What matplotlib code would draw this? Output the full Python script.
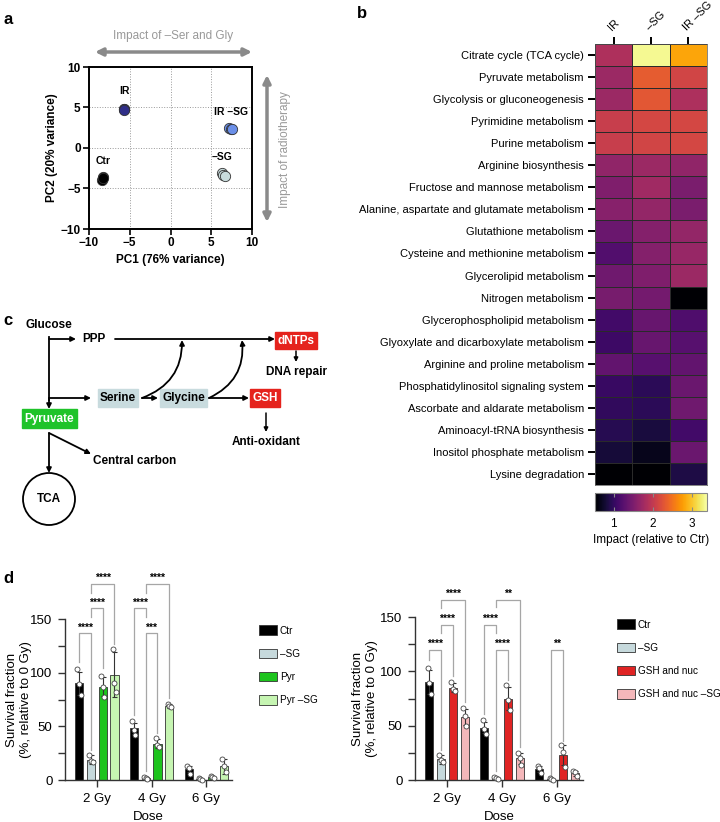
import numpy as np
import matplotlib.pyplot as plt
from matplotlib.patches import Patch, Rectangle, Circle

plt.rcParams['font.family'] = ['Liberation Sans', 'DejaVu Sans']

W, H = 720, 822

# a: PCA of metabolite profiles
pca_groups = ['Ctr', 'IR', 'IR –SG', '–SG']
pca_pc1 = [[-8.30, -8.36, -8.27], [-5.72, -5.68, -5.70], [7.12, 7.38, 7.58], [6.28, 6.46, 6.64]]
pca_pc2 = [[-3.52, -3.92, -3.72], [4.78, 4.84, 4.74], [2.52, 2.40, 2.30], [-3.10, -3.30, -3.48]]
pca_colors = ['#000000', '#2f2e88', '#6b8fe8', '#c8dbdc']

# b: pathway impact heatmap
conditions = ['IR', '–SG', 'IR –SG']
pathways = ['Citrate cycle (TCA cycle)', 'Pyruvate metabolism', 'Glycolysis or gluconeogenesis',
            'Pyrimidine metabolism', 'Purine metabolism', 'Arginine biosynthesis',
            'Fructose and mannose metabolism', 'Alanine, aspartate and glutamate metabolism',
            'Glutathione metabolism', 'Cysteine and methionine metabolism',
            'Glycerolipid metabolism', 'Nitrogen metabolism', 'Glycerophospholipid metabolism',
            'Glyoxylate and dicarboxylate metabolism', 'Arginine and proline metabolism',
            'Phosphatidylinositol signaling system', 'Ascorbate and aldarate metabolism',
            'Aminoacyl-tRNA biosynthesis', 'Inositol phosphate metabolism', 'Lysine degradation']
impact_ir = [1.86, 1.72, 1.72, 2.04, 2.04, 1.64, 1.52, 1.58, 1.38, 1.21,
             1.41, 1.46, 1.09, 1.06, 1.32, 1.03, 0.98, 0.92, 0.81, 0.52]
impact_sg = [3.32, 2.32, 2.29, 2.15, 2.12, 1.72, 1.75, 1.66, 1.55, 1.55,
             1.52, 1.44, 1.35, 1.35, 1.24, 0.95, 0.95, 0.83, 0.66, 0.52]
impact_irsg = [2.81, 2.12, 1.84, 2.15, 2.15, 1.64, 1.49, 1.49, 1.66, 1.69,
               1.72, 0.52, 1.18, 1.24, 1.32, 1.38, 1.41, 1.09, 1.38, 0.86]

# d: survival fractions
doses = ['2 Gy', '4 Gy', '6 Gy']
ctr_mean, ctr_sd = [90, 48, 10], [11, 5, 3]
ctr_pts = [[103, 89, 79], [55, 47, 42], [13, 11, 6]]
sg_mean, sg_sd = [19, 2, 1], [4, 1, 1]
sg_pts = [[23, 18, 17], [3, 2, 1], [2, 1, 0]]
pyr_mean, pyr_sd = [87, 34, 3], [9, 4, 1]
pyr_pts = [[97, 87, 77], [39, 33, 31], [4, 3, 2]]
pyrsg_mean, pyrsg_sd = [98, 69, 13], [21, 2, 7]
pyrsg_pts = [[122, 90, 82], [71, 69, 68], [20, 13, 7]]
gsh_mean, gsh_sd = [85, 75, 23], [4, 11, 9]
gsh_pts = [[90, 84, 82], [87, 74, 64], [32, 26, 12]]
gshsg_mean, gshsg_sd = [58, 20, 6], [7, 5, 2]
gshsg_pts = [[66, 59, 50], [25, 20, 14], [8, 7, 4]]

# (dose index, bar i, bar j, height, leg bottom i, leg bottom j, label)
left_sig = [(0, 0, 1, 137, 110, 28, '****'), (0, 1, 2, 160, 152, 104, '****'),
            (0, 1, 3, 183, 174, 127, '****'), (1, 0, 1, 160, 61, 152, '****'),
            (1, 1, 2, 137, 8, 44, '***'), (1, 1, 3, 183, 174, 76, '****')]
right_sig = [(0, 0, 1, 120, 110, 28, '****'), (0, 1, 2, 143, 135, 96, '****'),
             (0, 1, 3, 166, 158, 72, '****'), (1, 0, 1, 143, 61, 135, '****'),
             (1, 1, 2, 120, 8, 92, '****'), (1, 1, 3, 166, 159, 30, '**'),
             (2, 1, 2, 120, 5, 36, '**')]

fig = plt.figure(figsize=(W / 100, H / 100), dpi=100)


def px_ax(x0, y0, x1, y1):
    return fig.add_axes([x0 / W, 1 - y1 / H, (x1 - x0) / W, (y1 - y0) / H])


ov = fig.add_axes([0, 0, 1, 1])
ov.set_xlim(0, W)
ov.set_ylim(H, 0)
ov.axis('off')


def arrow(x0, y0, x1, y1, color='k', lw=1.3, ms=7, style='-|>', rad=None):
    props = dict(arrowstyle=style, color=color, lw=lw, mutation_scale=ms, shrinkA=0, shrinkB=0)
    if rad is not None:
        props['connectionstyle'] = 'arc3,rad=%s' % rad
    ov.annotate('', xy=(x1, y1), xytext=(x0, y0), arrowprops=props)


for lab, x, y in [('a', 3, 20), ('b', 357, 14), ('c', 3, 320), ('d', 3, 578)]:
    ov.text(x, y, lab, fontsize=12, fontweight='bold', va='center')

# ---------------- a
ax = px_ax(89, 67, 252, 229)
offs = [(0, 1.5), (0, 1.6), (0.1, 1.45), (-0.2, 1.55)]
for g, xs, ys, c, o in zip(pca_groups, pca_pc1, pca_pc2, pca_colors, offs):
    ax.scatter(xs, ys, s=55, color=c, edgecolor='#333333', linewidth=0.6, zorder=3)
    ax.text(np.mean(xs) + o[0], np.mean(ys) + o[1], g, ha='center', va='bottom',
            fontsize=7.5, fontweight='bold')
ax.set_xlim(-10, 10)
ax.set_ylim(-10, 10)
ax.set_xticks([-10, -5, 0, 5, 10])
ax.set_yticks([-10, -5, 0, 5, 10])
ax.grid(True, color='#999999', ls=':', lw=0.7)
for s in ax.spines.values():
    s.set_linewidth(1.4)
ax.tick_params(width=1.2, length=4, labelsize=8.5, pad=2)
for t in ax.get_xticklabels() + ax.get_yticklabels():
    t.set_fontweight('bold')
ax.set_xlabel('PC1 (76% variance)', fontsize=8.5, fontweight='bold', labelpad=3)
ax.set_ylabel('PC2 (20% variance)', fontsize=8.5, fontweight='bold', labelpad=2)

arrow(95, 52, 252, 52, color='#8a8a8a', lw=2.5, ms=11, style='<|-|>')
ov.text(173, 36, 'Impact of –Ser and Gly', color='#999999', fontsize=8.5, ha='center', va='center')
arrow(267, 75, 267, 222, color='#8a8a8a', lw=2.5, ms=11, style='<|-|>')
ov.text(285, 150, 'Impact of radiotherapy', color='#999999', fontsize=8.5, ha='center',
        va='center', rotation=90)

# ---------------- b
axb = px_ax(595, 44, 707, 485)
vals = np.array([impact_ir, impact_sg, impact_irsg]).T
mesh = axb.pcolormesh(vals, cmap='inferno', vmin=0.52, vmax=3.38,
                      edgecolors='#2a2a2a', linewidth=0.5)
axb.set_xlim(0, 3)
axb.set_ylim(len(pathways), 0)
axb.set_yticks(np.arange(len(pathways)) + 0.5)
axb.set_yticklabels(pathways)
axb.set_xticks(np.arange(3) + 0.5)
axb.xaxis.tick_top()
axb.set_xticklabels(conditions, rotation=45, ha='left', va='bottom', rotation_mode='anchor')
axb.tick_params(axis='both', length=5, width=1.4, labelsize=8, pad=3)
for s in axb.spines.values():
    s.set_linewidth(0.5)
    s.set_color('#555555')

cax = px_ax(595, 493, 707, 511)
cb = fig.colorbar(mesh, cax=cax, orientation='horizontal', ticks=[1, 2, 3])
cb.outline.set_edgecolor('#888888')
cb.outline.set_linewidth(0.8)
cax.tick_params(axis='x', direction='in', top=True, bottom=True, length=3, width=0.8,
                color='#888888', labelsize=8.5, pad=5)
cax.set_xlabel('Impact (relative to Ctr)', fontsize=8.5, labelpad=3)

# ---------------- c
bold = dict(fontsize=8.5, fontweight='bold', ha='center', va='center')
ov.text(49, 325, 'Glucose', **bold)
ov.plot([49, 49], [337, 400], color='k', lw=1.3)
arrow(49, 398, 49, 409)
arrow(49, 339, 76, 339)
ov.text(94, 339, 'PPP', **bold)
arrow(115, 339, 275, 339)
ov.add_patch(Rectangle((275, 332), 42, 17, color='#e5231d'))
ov.text(296, 340.5, 'dNTPs', color='white', **bold)
arrow(296, 351, 296, 362, ms=6, lw=1.1)
ov.text(297, 372, 'DNA repair', **bold)
arrow(49, 398, 91, 398)
ov.add_patch(Rectangle((98, 389), 40, 18, color='#c8dbde'))
ov.text(118, 398, 'Serine', **bold)
arrow(142, 398, 158, 398)
ov.add_patch(Rectangle((160, 389), 47, 18, color='#c8dbde'))
ov.text(183.5, 398, 'Glycine', **bold)
arrow(209, 398, 249, 398)
ov.add_patch(Rectangle((250, 389), 30, 18, color='#e5231d'))
ov.text(265, 398, 'GSH', color='white', **bold)
arrow(266, 413, 266, 432, ms=6, lw=1.1)
ov.text(266, 442, 'Anti-oxidant', **bold)
arrow(142, 398, 182, 340, rad=0.35)
arrow(209, 398, 242, 340, rad=0.35)
ov.add_patch(Rectangle((22, 409), 55, 19, color='#1fc32a'))
ov.text(49.5, 418.5, 'Pyruvate', color='white', **bold)
arrow(49, 433, 49, 473)
arrow(49, 433, 91, 454)
ov.text(93, 461, 'Central carbon', fontsize=8.5, fontweight='bold', ha='left', va='center')
ov.add_patch(Circle((49, 499), 26, fill=False, lw=1.3, color='k'))
ov.text(49, 499, 'TCA', **bold)


# ---------------- d
def survival(ax, series, sig, label_x, leg_anchor):
    x = np.arange(len(doses))
    off = [-1.5, -0.5, 0.5, 1.5]
    step, bw = 0.215, 0.15
    for k, (name, mean, sd, pts, col) in enumerate(series):
        xs = x + off[k] * step
        ax.bar(xs, mean, width=bw, color=col, edgecolor='#333333', linewidth=0.6,
               label=name, zorder=2)
        ax.errorbar(xs, mean, yerr=sd, fmt='none', ecolor='#333333', elinewidth=0.8,
                    capsize=1.8, capthick=0.8, zorder=3)
        for xi, p in zip(xs, pts):
            jit = np.array([-0.03, 0.0, 0.03])
            ax.plot(xi + jit, p, 'o', ms=3.6, mfc='white', mec='#444444', mew=0.6,
                    zorder=4, clip_on=False)
    for d, i, j, h, bi, bj, lab in sig:
        x1 = x[d] + off[i] * step
        x2 = x[d] + off[j] * step
        ax.plot([x1, x1, x2, x2], [bi, h, h, bj], color='#a6a6a6', lw=0.9, clip_on=False)
        ax.text((x1 + x2) / 2, h + 5, lab, ha='center', va='center', fontsize=7.5,
                fontweight='bold', clip_on=False)
    ax.set_ylim(0, 150)
    ax.set_xlim(-0.58, 2.47)
    ax.set_yticks([0, 50, 100, 150])
    ax.set_yticks([25, 75, 125], minor=True)
    ax.set_xticks(x)
    ax.set_xticklabels(doses)
    for s in ['top', 'right']:
        ax.spines[s].set_visible(False)
    for s in ['left', 'bottom']:
        ax.spines[s].set_linewidth(1.0)
        ax.spines[s].set_color('#333333')
    ax.tick_params(which='both', width=1.0, color='#333333', labelsize=9.5, pad=4)
    ax.tick_params(which='major', length=5)
    ax.tick_params(which='minor', length=5)
    ax.set_xlabel('Dose', fontsize=9.5, labelpad=5)
    ax.set_ylabel('Survival fraction\n(%, relative to 0 Gy)', fontsize=9.5)
    ax.yaxis.set_label_coords(label_x, 0.5)
    handles = [Patch(facecolor=s[4], edgecolor='#333333', linewidth=0.6, label=s[0])
               for s in series]
    ax.legend(handles=handles, loc='upper left', bbox_to_anchor=leg_anchor,
              frameon=False, fontsize=7.2, handlelength=1.85, handleheight=1.1,
              labelspacing=1.3, handletextpad=0.25, borderpad=0, borderaxespad=0)


axl = px_ax(65, 619, 232, 780)
survival(axl, [('Ctr', ctr_mean, ctr_sd, ctr_pts, '#000000'),
               ('–SG', sg_mean, sg_sd, sg_pts, '#c6d9dc'),
               ('Pyr', pyr_mean, pyr_sd, pyr_pts, '#1dc41d'),
               ('Pyr –SG', pyrsg_mean, pyrsg_sd, pyrsg_pts, '#c6f5b2')], left_sig,
         -0.2, (1.16, 0.96))

axr = px_ax(415, 617, 583, 780)
survival(axr, [('Ctr', ctr_mean, ctr_sd, ctr_pts, '#000000'),
               ('–SG', sg_mean, sg_sd, sg_pts, '#c6d9dc'),
               ('GSH and nuc', gsh_mean, gsh_sd, gsh_pts, '#e02424'),
               ('GSH and nuc –SG', gshsg_mean, gshsg_sd, gshsg_pts, '#f4b7ba')], right_sig,
         -0.22, (1.2, 0.985))

fig.savefig('out.png', dpi=100)
